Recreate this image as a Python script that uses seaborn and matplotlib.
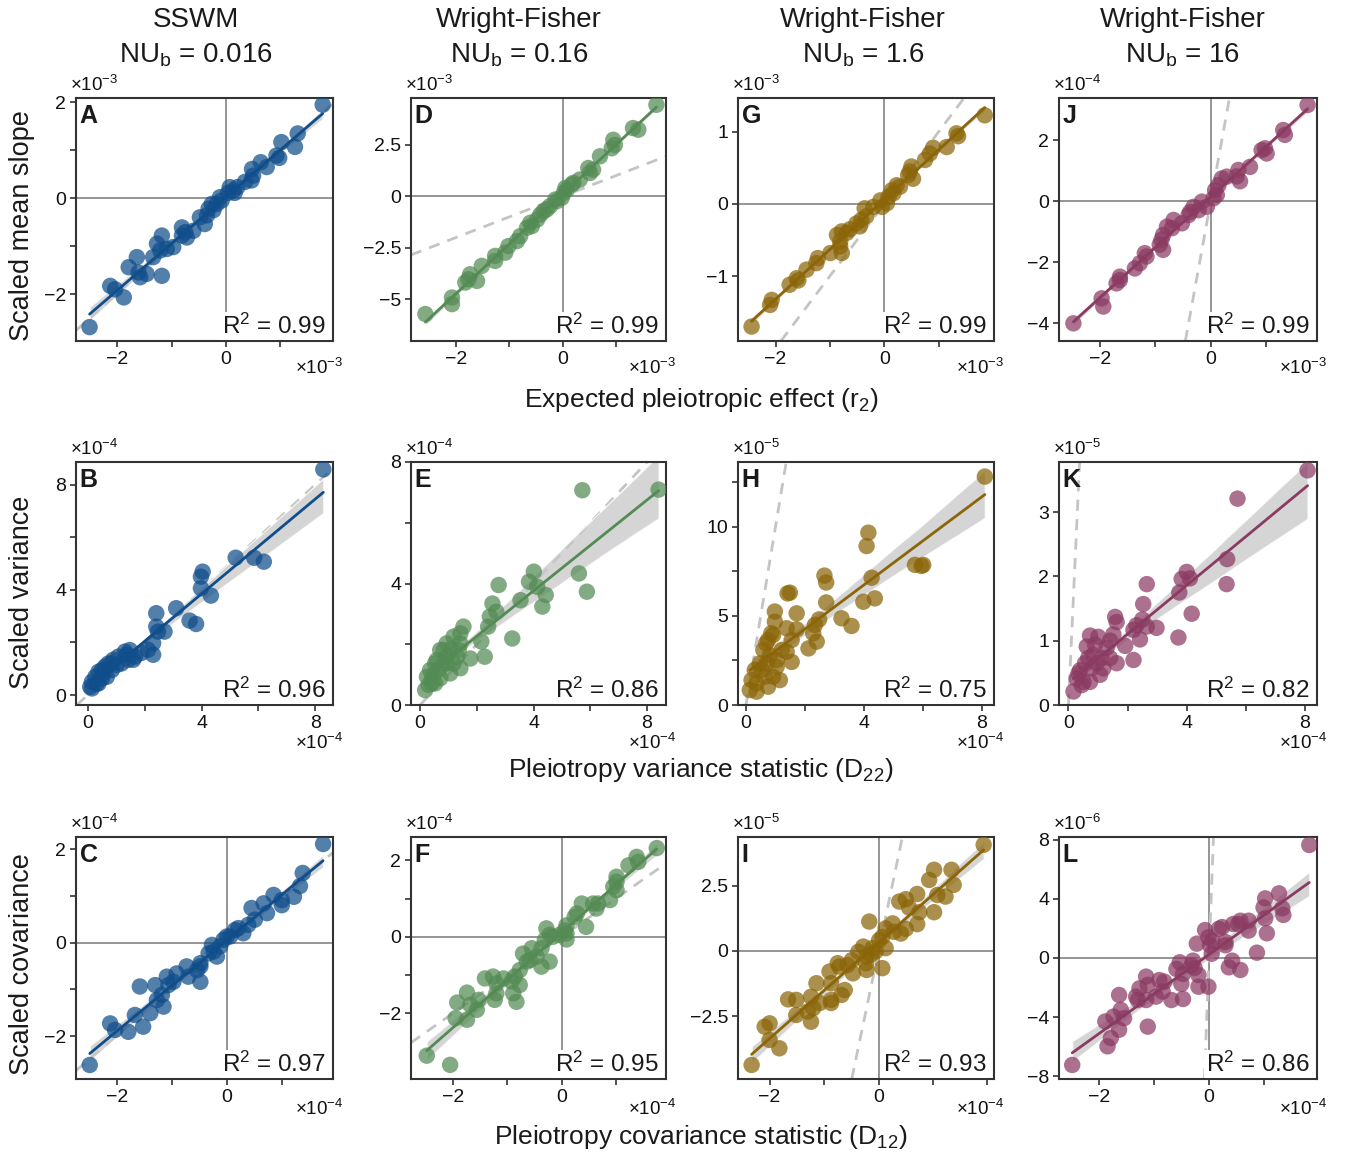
import matplotlib
matplotlib.use("Agg")
import matplotlib.pyplot as plt
import numpy as np
import pandas as pd
import seaborn as sns

sns.set_style("white")
plt.rcParams['font.family'] = ['Liberation Sans', 'DejaVu Sans']
plt.rcParams['mathtext.fontset'] = 'custom'
plt.rcParams['mathtext.rm'] = 'Liberation Sans'
plt.rcParams['mathtext.it'] = 'Liberation Sans:italic'
plt.rcParams['mathtext.bf'] = 'Liberation Sans:bold'

# ---- datos (en unidades del eje: x10^ex, x10^ey) ----
a_x = [1.78, 1.32, 1.27, 1.02, 0.93, 0.98, 0.75, 0.64, 0.48, 0.50, 0.47, 0.35, 0.21, 0.13, 0.04, 0.07, -0.08, -0.17, -0.26, -0.32,
       -0.35, -0.48, -0.39, -0.60, -0.75, -0.81, -0.81, -0.97, -1.09, -1.18, -1.27, -1.21, -1.34, -1.64, -1.79, -1.61, -1.46, -1.18,
       -1.58, -2.13, -2.04, -1.88, -2.51, -0.23, -0.72, -0.11, 0.16]
a_y = [1.95, 1.35, 1.07, 1.17, 0.89, 0.84, 0.65, 0.75, 0.61, 0.47, 0.37, 0.34, 0.23, 0.16, 0.11, 0.23, -0.05, -0.12, -0.12, -0.22,
       -0.36, -0.40, -0.54, -0.68, -0.71, -0.61, -0.78, -1.02, -1.06, -0.78, -0.95, -1.09, -1.23, -1.23, -1.44, -1.55, -1.58, -1.62,
       -1.65, -1.83, -1.90, -2.07, -2.69, -0.25, -0.82, 0.02, 0.11]

d_x = [1.76, 1.32, 1.42, 0.95, 0.92, 0.98, 0.70, 0.48, 0.51, 0.32, 0.17, 0.08, 0.02, 0.05, -0.02, -0.14, -0.24, -0.36, -0.42, -0.48,
       -0.58, -0.61, -0.80, -0.86, -1.02, -1.08, -1.27, -1.27, -1.52, -1.74, -1.83, -1.61, -1.77, -2.08, -2.08, -2.58, -0.67, -0.30,
       -0.11, 0.20, 0.57]
d_y = [4.44, 3.31, 3.23, 2.74, 2.33, 2.49, 1.94, 1.37, 1.13, 0.81, 0.57, 0.32, 0.16, 0.40, -0.08, -0.16, -0.48, -0.73, -0.89, -1.13,
       -1.45, -1.29, -1.94, -2.18, -2.42, -2.74, -2.90, -3.14, -3.38, -3.79, -4.19, -4.11, -4.03, -4.92, -5.24, -5.72, -1.53, -0.64,
       -0.24, 0.65, 1.29]

g_x = [1.85, 1.33, 1.36, 1.15, 0.90, 0.84, 0.75, 0.50, 0.44, 0.53, 0.47, 0.23, 0.14, 0.08, 0.17, 0.05, -0.04, -0.20, -0.36, -0.33,
       -0.42, -0.45, -0.63, -0.78, -0.87, -0.81, -0.81, -0.78, -0.99, -1.22, -1.25, -1.43, -1.61, -1.74, -1.58, -2.07, -2.10, -2.44,
       -0.07, -0.51, -0.69, 0.29]
g_y = [1.23, 0.98, 0.94, 0.79, 0.78, 0.70, 0.61, 0.52, 0.40, 0.35, 0.45, 0.26, 0.19, 0.10, 0.15, 0.01, -0.04, -0.04, -0.06, -0.17,
       -0.22, -0.31, -0.35, -0.38, -0.43, -0.52, -0.59, -0.68, -0.68, -0.75, -0.82, -0.91, -1.03, -1.12, -1.06, -1.33, -1.40, -1.70,
       0.05, -0.27, -0.40, 0.24]

j_x = [1.75, 1.31, 1.34, 0.98, 0.92, 1.01, 0.71, 0.50, 0.47, 0.53, 0.20, 0.14, 0.08, 0.05, 0.11, -0.07, -0.16, -0.31, -0.37, -0.40,
       -0.52, -0.67, -0.70, -0.86, -0.89, -0.92, -0.86, -1.19, -1.16, -1.28, -1.37, -1.64, -1.70, -1.64, -1.97, -1.94, -2.48, -0.79,
       -0.22, 0.29]
j_y = [3.16, 2.34, 2.18, 1.74, 1.68, 1.57, 1.13, 1.03, 0.82, 0.66, 0.75, 0.53, 0.37, 0.10, 0.21, -0.18, -0.01, -0.18, -0.35, -0.45,
       -0.72, -0.61, -0.88, -1.10, -1.26, -1.42, -1.59, -1.70, -1.81, -2.03, -2.20, -2.47, -2.69, -2.58, -3.18, -3.45, -4.00, -0.83,
       -0.29, 0.81]

b_x = [8.28, 6.19, 5.85, 5.20, 4.04, 3.98, 3.98, 4.33, 3.11, 3.58, 3.81, 2.41, 2.41, 2.47, 2.70, 2.30, 2.30, 2.12, 1.89, 1.60,
       1.48, 1.31, 1.08, 0.90, 0.73, 0.61, 0.50, 0.38, 0.27, 0.15, 0.09, 0.50, 0.85, 1.19, 1.66, 0.32, 0.55, 1.02, 1.43, 0.67,
       0.15, 0.38, 0.85, 1.37]
b_y = [8.58, 5.07, 5.22, 5.22, 4.69, 4.50, 4.06, 3.78, 3.30, 2.83, 2.70, 3.11, 2.60, 2.41, 2.41, 1.97, 1.53, 1.72, 1.60, 1.34,
       1.71, 1.65, 1.46, 1.34, 1.20, 1.08, 0.95, 0.88, 0.69, 0.50, 0.31, 0.63, 0.95, 1.20, 1.46, 0.44, 0.82, 1.14, 1.34, 0.69,
       0.25, 0.44, 1.20, 1.53]

e_x = [8.41, 5.72, 5.60, 5.88, 4.01, 3.84, 4.13, 4.43, 4.31, 2.77, 3.54, 2.55, 2.69, 2.46, 3.25, 2.40, 2.16, 2.28, 1.53, 1.42,
       1.18, 1.77, 1.36, 0.94, 0.71, 0.94, 0.53, 0.35, 0.24, 0.18, 0.41, 0.65, 0.83, 1.18, 1.42, 1.06, 0.71, 0.47, 0.83, 1.12,
       1.42, 0.59, 0.30, 0.94, 1.30, 0.53]
e_y = [7.09, 7.07, 4.33, 3.73, 4.39, 4.06, 3.89, 3.62, 3.24, 3.95, 3.45, 3.34, 3.07, 2.91, 2.19, 2.58, 2.09, 1.59, 2.58, 2.36,
       2.25, 1.53, 1.81, 2.03, 1.81, 1.59, 1.37, 1.15, 0.93, 0.49, 0.71, 1.15, 1.37, 1.37, 1.21, 1.04, 0.88, 0.99, 1.81, 1.86,
       2.03, 1.48, 0.66, 1.37, 1.59, 0.71]

h_x = [8.10, 4.15, 4.09, 5.73, 5.95, 6.01, 4.26, 3.98, 4.37, 2.66, 2.72, 2.72, 1.49, 1.41, 1.72, 3.24, 3.58, 2.48, 2.34, 2.28,
       2.40, 2.12, 0.98, 0.98, 0.86, 0.75, 1.38, 1.72, 1.55, 1.38, 1.55, 1.05, 0.81, 0.59, 0.47, 0.30, 0.19, 0.13, 0.36, 0.75,
       1.15, 0.92, 0.64, 0.36, 0.53, 0.70, 1.04, 1.21, 0.92, 0.68]
h_y = [12.83, 9.68, 8.93, 7.87, 7.81, 7.87, 7.15, 5.80, 5.99, 7.27, 6.88, 5.76, 6.31, 6.27, 5.15, 4.87, 4.44, 4.81, 4.50, 4.03,
       3.56, 3.18, 5.25, 4.68, 4.03, 3.65, 4.31, 4.25, 3.65, 2.99, 2.42, 2.52, 2.80, 3.09, 2.34, 1.97, 1.40, 0.84, 0.75, 1.03,
       1.40, 1.59, 1.59, 1.22, 1.97, 2.34, 2.15, 3.09, 3.93, 3.46]

k_x = [8.09, 5.72, 5.37, 5.35, 4.00, 3.83, 4.11, 3.75, 4.17, 3.72, 2.65, 2.53, 2.30, 2.50, 2.65, 2.98, 2.42, 2.20, 1.58, 1.63,
       1.52, 1.41, 1.92, 2.20, 1.63, 1.07, 1.01, 0.73, 0.62, 0.84, 1.12, 1.29, 0.56, 0.39, 0.28, 0.17, 0.45, 0.73, 0.96, 0.90,
       0.67, 0.34, 1.41, 1.18, 0.51, 0.79]
k_y = [3.65, 3.21, 2.27, 1.88, 2.07, 1.96, 1.97, 1.75, 1.42, 1.05, 1.88, 1.57, 1.24, 1.33, 1.22, 1.20, 1.02, 1.17, 1.37, 1.29,
       1.10, 1.00, 0.92, 0.70, 0.65, 0.47, 1.06, 1.08, 0.91, 0.78, 0.73, 0.89, 0.65, 0.54, 0.41, 0.21, 0.31, 0.36, 0.65, 0.94,
       0.73, 0.49, 0.73, 0.57, 0.36, 0.57]

c_x = [1.75, 1.38, 1.33, 1.22, 1.00, 1.00, 0.85, 0.67, 0.73, 0.45, 0.51, 0.39, 0.30, 0.15, 0.06, -0.06, -0.12, -0.27, -0.18, -0.33,
       -0.48, -0.54, -0.73, -0.70, -0.48, -0.91, -1.09, -1.06, -0.97, -1.30, -1.58, -1.18, -1.27, -1.15, -1.39, -1.67, -1.52, -1.79,
       -2.12, -2.03, -2.49, -0.48, -0.24, 0.0, 0.21]
c_y = [2.11, 1.49, 1.21, 0.98, 0.91, 0.80, 1.02, 0.84, 0.63, 0.74, 0.49, 0.38, 0.20, 0.27, 0.13, 0.06, -0.08, -0.05, -0.30, -0.23,
       -0.44, -0.59, -0.51, -0.73, -0.84, -0.66, -0.73, -0.91, -0.84, -0.91, -0.94, -1.12, -1.23, -1.37, -1.51, -1.55, -1.80, -1.91,
       -1.73, -1.87, -2.62, -0.51, -0.19, 0.13, 0.31]

f_x = [1.75, 1.38, 1.41, 1.23, 1.01, 1.01, 0.95, 1.01, 0.89, 0.67, 0.58, 0.64, 0.37, 0.28, 0.24, 0.45, 0.09, 0.06, 0.09, -0.04,
       -0.16, -0.22, -0.28, -0.31, 0.09, -0.37, -0.55, -0.46, -0.58, -0.71, -0.64, -0.22, -0.37, -0.77, -0.86, -1.07, -1.26, -1.41,
       -0.92, -0.77, -0.89, -0.83, -1.20, -1.23, -1.20, -1.53, -1.56, -1.68, -1.74, -1.92, -1.95, -1.74, -2.48, -2.05]
f_y = [2.32, 2.09, 1.96, 1.87, 1.57, 1.44, 1.31, 1.22, 0.96, 0.87, 0.87, 0.74, 0.87, 0.61, 0.52, 0.26, 0.30, 0.17, 0.09, 0.05,
       0.00, 0.05, 0.22, -0.09, -0.07, -0.30, -0.30, -0.52, -0.61, -0.44, -0.65, -0.65, -0.78, -0.87, -1.04, -1.09, -1.04, -1.09,
       -1.17, -1.26, -1.48, -1.70, -1.48, -1.65, -1.22, -1.65, -1.91, -1.78, -1.46, -1.72, -2.13, -2.17, -3.11, -3.35]

i_x = [1.93, 1.34, 1.02, 0.93, 1.38, 0.71, 1.08, 1.23, 0.38, 0.50, 0.56, 1.02, 0.75, 0.71, 0.50, 0.41, 0.26, 0.13, 0.07, 0.28,
       -0.17, -0.11, -0.14, 0.07, 0.13, -0.28, -0.37, -0.22, -0.49, -0.75, -0.57, -0.22, -0.47, -0.90, -1.14, -0.87, -0.62, -0.68,
       -0.87, -0.87, -1.24, -1.08, -1.20, -1.24, -1.30, -1.51, -1.66, -1.51, -2.00, -2.09, -2.00, -1.82, -2.33, -0.05, -0.23, -0.72,
       0.01]
i_y = [4.08, 3.12, 3.12, 2.73, 2.54, 2.19, 2.15, 2.09, 1.90, 1.99, 1.67, 1.49, 1.49, 1.03, 0.85, 0.67, 1.06, 0.87, 0.54, 0.74,
       1.13, 0.11, -0.14, -0.66, 0.11, 0.17, -0.03, -0.22, -0.35, -0.47, -0.54, -0.73, -0.86, -0.79, -1.24, -1.24, -1.50, -1.69,
       -1.88, -2.00, -1.76, -2.00, -2.20, -2.72, -2.33, -1.88, -1.86, -2.46, -2.78, -2.91, -3.42, -3.74, -4.38, -0.01, -0.47, -0.60,
       0.41]

l_x = [1.82, 1.27, 1.02, 0.99, 1.33, 1.35, 1.02, 1.05, 0.87, 0.72, 0.57, 0.44, 0.72, 0.53, 0.57, 0.42, 0.36, 0.18, 0.24, 0.30,
       0.06, -0.07, 0.02, 0.05, -0.22, -0.01, -0.01, -0.19, -0.19, -0.29, -0.32, -0.53, -0.59, -0.47, -0.50, -0.47, -0.68, -0.84,
       -0.90, -0.96, -1.14, -1.11, -1.14, -1.26, -1.32, -1.29, -1.11, -1.63, -1.60, -1.54, -1.73, -1.88, -1.63, -1.78, -1.84, -2.48,
       -0.81, -0.26, 0.30]
l_y = [7.64, 4.37, 4.03, 3.42, 3.36, 2.91, 2.68, 1.67, 0.36, 2.52, 2.52, 2.30, 1.85, 2.30, -0.81, -0.18, -0.63, 1.98, 2.09, 0.86,
       1.17, 1.89, 0.86, 0.29, 0.97, 1.40, -1.94, -1.94, -1.15, -0.18, -0.52, -0.29, -0.74, -1.08, -1.75, -2.77, -2.84, -2.27,
       -1.49, -2.61, -1.26, -1.82, -2.84, -2.05, -2.61, -2.84, -4.64, -2.50, -3.51, -4.07, -3.96, -4.29, -4.85, -5.41, -5.97, -7.23,
       -1.60, -0.68, 1.08]

colores = ["#104E8B", "#548B54", "#8B6508", "#8B3A62"]
titulos = ["SSWM", "Wright-Fisher", "Wright-Fisher", "Wright-Fisher"]
nub = ["0.016", "0.16", "1.6", "16"]
ylabels = ["Scaled mean slope", "Scaled variance", "Scaled covariance"]
xlabels = ["Expected pleiotropic effect (r$_2$)", "Pleiotropy variance statistic (D$_{22}$)",
           "Pleiotropy covariance statistic (D$_{12}$)"]

W, H = 1348, 1159
cols_px = [(76, 333), (411, 666), (738, 994), (1059, 1317)]
rows_px = [(98, 341), (462, 705), (837, 1079)]

# fila, col, letra, x, y, r2, xlim, ylim, ticks x, ticks y, exp x, exp y
paneles = [
    (0, 0, "A", a_x, a_y, "0.99", (-2.76, 1.97), (-2.98, 2.09), ([-2, 0], [-1, 1]), ([-2, 0, 2], [-1, 1]), -3, -3),
    (0, 1, "D", d_x, d_y, "0.99", (-2.85, 1.94), (-7.03, 4.77), ([-2, 0], [-1, 1]), ([-5, -2.5, 0, 2.5], []), -3, -3),
    (0, 2, "G", g_x, g_y, "0.99", (-2.69, 2.02), (-1.90, 1.47), ([-2, 0], [-1, 1]), ([-1, 0, 1], []), -3, -3),
    (0, 3, "J", j_x, j_y, "0.99", (-2.74, 1.92), (-4.58, 3.39), ([-2, 0], [-1, 1]), ([-4, -2, 0, 2], []), -3, -4),
    (1, 0, "B", b_x, b_y, "0.96", (-0.41, 8.62), (-0.38, 8.86), ([0, 4, 8], [2, 6]), ([0, 4, 8], [2, 6]), -4, -4),
    (1, 1, "E", e_x, e_y, "0.86", (-0.32, 8.67), (0, 8.0), ([0, 4, 8], [2, 6]), ([0, 4, 8], [2, 6]), -4, -4),
    (1, 2, "H", h_x, h_y, "0.75", (-0.27, 8.41), (0, 13.65), ([0, 4, 8], [2, 6]), ([0, 5, 10], [2.5, 7.5, 12.5]), -4, -5),
    (1, 3, "K", k_x, k_y, "0.82", (-0.32, 8.41), (0, 3.78), ([0, 4, 8], [2, 6]), ([0, 1, 2, 3], []), -4, -5),
    (2, 0, "C", c_x, c_y, "0.97", (-2.74, 1.93), (-2.92, 2.26), ([-2, 0], [-1, 1]), ([-2, 0, 2], [-1, 1]), -4, -4),
    (2, 1, "F", f_x, f_y, "0.95", (-2.77, 1.92), (-3.72, 2.61), ([-2, 0], [-1, 1]), ([-2, 0, 2], [-1, 1]), -4, -4),
    (2, 2, "I", i_x, i_y, "0.93", (-2.58, 2.12), (-4.92, 4.38), ([-2, 0], [-1, 1, 2]), ([-2.5, 0, 2.5], []), -4, -5),
    (2, 3, "L", l_x, l_y, "0.86", (-2.72, 1.96), (-8.18, 8.18), ([-2, 0], [-1, 1]), ([-8, -4, 0, 4, 8], []), -4, -6),
]
off_x_y = [-0.11, -0.155, -0.125]


def fmt(v):
    return f"{v:g}".replace("-", "\u2212")


def pinta_panel(ax, fila, letra, x, y, color, r2, xlim, ylim, xt, yt, ex, ey):
    df = pd.DataFrame({"x": x, "y": y})
    ax.axline((0, 0), slope=10.0 ** (ex - ey), color="#c4c4c4", lw=2, ls=(0, (4, 3)), zorder=1)
    if fila != 1:
        ax.axhline(0, color="#8c8c8c", lw=1.3, zorder=0.5)
        ax.axvline(0, color="#8c8c8c", lw=1.3, zorder=0.5)
    sns.regplot(data=df, x="x", y="y", scatter=False, ax=ax, color=color, line_kws={"lw": 2, "zorder": 4})
    banda = ax.collections[-1]
    banda.set_facecolor("#c8c8c8")
    banda.set_alpha(0.75)
    banda.set_zorder(1.5)
    sns.scatterplot(data=df, x="x", y="y", ax=ax, color=color, alpha=0.72, s=140, edgecolor="none", zorder=3)
    ax.set_xlim(xlim)
    ax.set_ylim(ylim)
    ax.set_xlabel("")
    ax.set_ylabel("")
    ax.set_xticks(xt[0], labels=[fmt(v) for v in xt[0]])
    ax.set_xticks(xt[1], minor=True)
    ax.set_yticks(yt[0], labels=[fmt(v) for v in yt[0]])
    ax.set_yticks(yt[1], minor=True)
    ax.tick_params(which="both", bottom=True, left=True, direction="out", length=4, width=1.2,
                   color="#333333", labelsize=14, labelcolor="#111111", pad=3)
    for sp in ax.spines.values():
        sp.set_color("#333333")
        sp.set_linewidth(1.5)
    ax.text(0.015, 0.975, letra, transform=ax.transAxes, ha="left", va="top",
            fontsize=18, fontweight="bold", color="#1a1a1a", zorder=6)
    ax.text(0.97, 0.03, "R$^2$ = " + r2, transform=ax.transAxes, ha="right", va="baseline",
            fontsize=17.5, color="#1a1a1a", zorder=6,
            bbox=dict(facecolor="white", edgecolor="none", pad=1.0))
    ax.text(-0.025, 1.055, "\u00d710$^{" + fmt(ey) + "}$", transform=ax.transAxes, ha="left",
            va="center", fontsize=13.5, color="#111111")
    ax.text(1.04, off_x_y[fila], "\u00d710$^{" + fmt(ex) + "}$", transform=ax.transAxes, ha="right",
            va="center", fontsize=13.5, color="#111111")


fig = plt.figure(figsize=(W / 100, H / 100), dpi=100)

for fila, col, letra, x, y, r2, xlim, ylim, xt, yt, ex, ey in paneles:
    x0, x1 = cols_px[col]
    y0, y1 = rows_px[fila]
    ax = fig.add_axes([x0 / W, 1 - y1 / H, (x1 - x0) / W, (y1 - y0) / H])
    pinta_panel(ax, fila, letra, x, y, colores[col], r2, xlim, ylim, xt, yt, ex, ey)

# titulos de columna
for cx, t, n in zip([196, 519, 863, 1183], titulos, nub):
    fig.text(cx / W, 1 - 20 / H, t, ha="center", va="center", fontsize=20, color="#1a1a1a")
    fig.text(cx / W, 1 - 55 / H, "NU$_\\mathrm{b}$ = " + n, ha="center", va="center", fontsize=20, color="#1a1a1a")

for yc, t in zip([226, 592, 964], ylabels):
    fig.text(22 / W, 1 - yc / H, t, ha="center", va="center", rotation=90, fontsize=19.5, color="#1a1a1a")

for yc, t in zip([400, 770, 1137], xlabels):
    fig.text(701 / W, 1 - yc / H, t, ha="center", va="center", fontsize=19, color="#1a1a1a")

fig.savefig("out.png", dpi=100)
